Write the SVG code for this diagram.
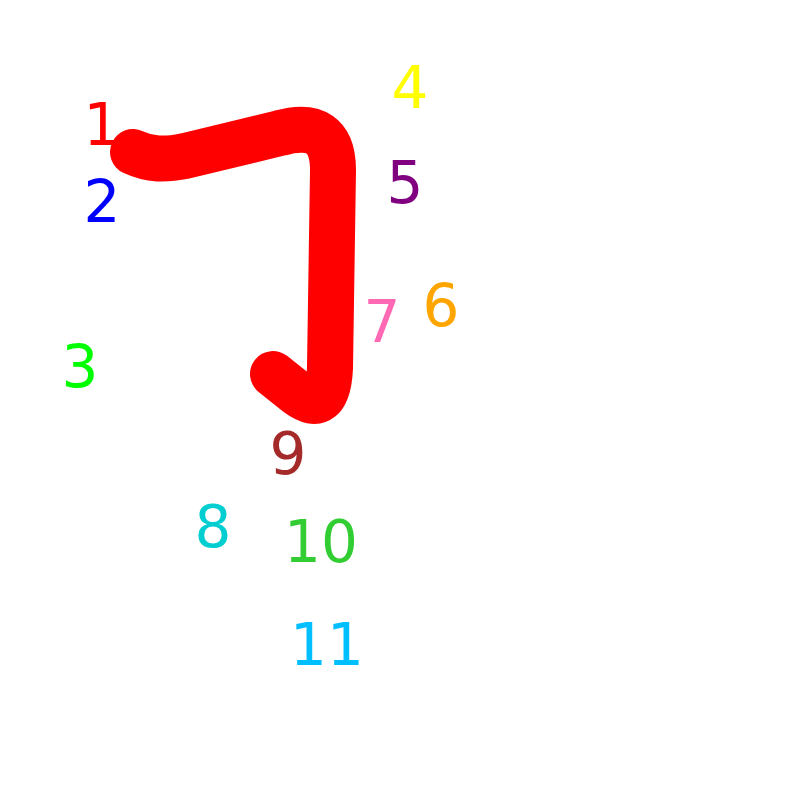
<svg xmlns="http://www.w3.org/2000/svg" width="800" height="800" viewBox="0 0 800 800">
<style>
text{font-family:"DejaVu Sans",sans-serif;font-size:58px;text-anchor:middle}
</style>
<rect width="800" height="800" fill="#fff"/>
<g id="stroke">
<path d="M133,152 C150,160 165,160 185,156 L280,133 Q333,118 333,170 L330,368 Q328,416 298,394 L273,374" fill="none" stroke="#ff0000" stroke-width="46" stroke-linecap="round" stroke-linejoin="round"/>
</g>
<g id="labels">
<text id="n1" x="102" y="145" fill="#ff0000">1</text>
<text id="n2" x="102" y="222" fill="#0000ff">2</text>
<text id="n3" x="80" y="387" fill="#00ff00">3</text>
<text id="n4" x="410" y="108" fill="#ffff00">4</text>
<text id="n5" x="405" y="203" fill="#800080">5</text>
<text id="n6" x="441" y="326" fill="#ffa500">6</text>
<text id="n7" x="382" y="342" fill="#ff69b4">7</text>
<text id="n8" x="213" y="547" fill="#00ced1">8</text>
<text id="n9" x="288" y="474" fill="#a52a2a">9</text>
<text id="n10" x="321" y="562" fill="#32cd32">10</text>
<text id="n11" x="327" y="665" fill="#00bfff">11</text>
</g>
</svg>
